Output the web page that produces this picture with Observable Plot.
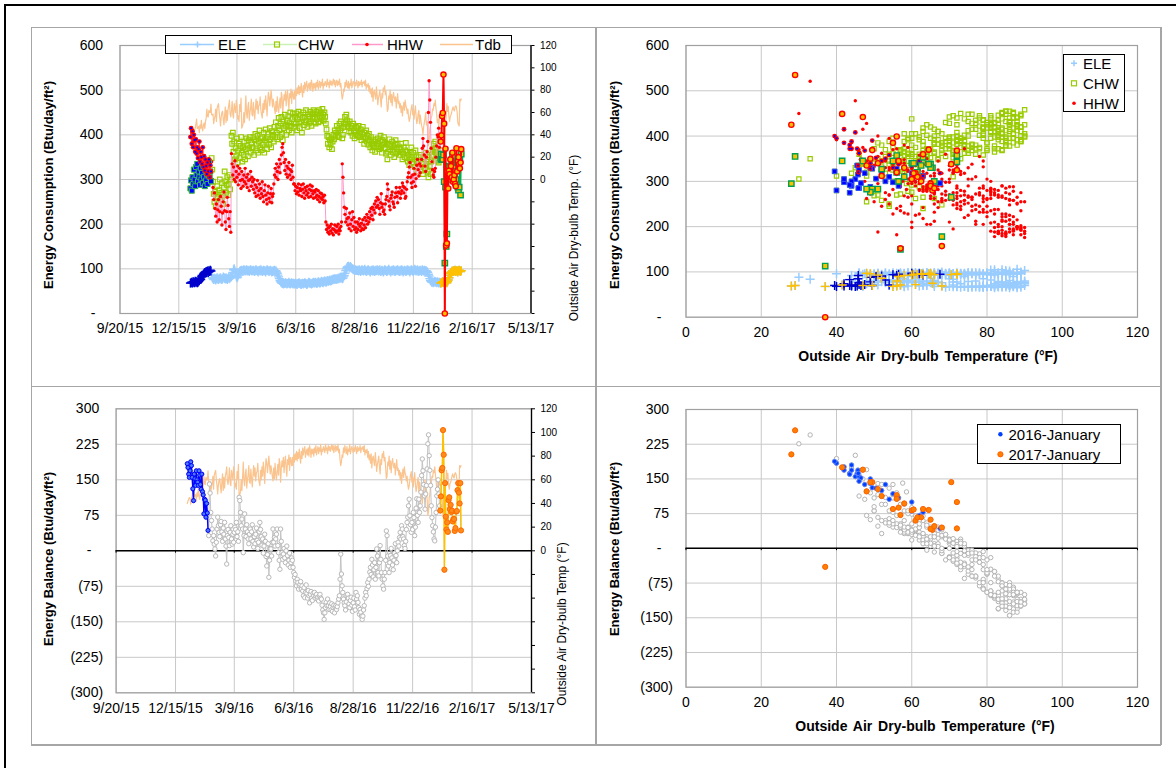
<!DOCTYPE html>
<html>
<head>
<meta charset="utf-8">
<title>Energy consumption and energy balance</title>
<script src="https://cdn.jsdelivr.net/npm/d3@7"></script>
<script src="https://cdn.jsdelivr.net/npm/@observablehq/plot@0.6"></script>
<style>
  html, body { margin: 0; padding: 0; background: #fff; }
  #page { position: relative; width: 1176px; height: 768px; overflow: hidden;
          font-family: "Liberation Sans", Arial, sans-serif; color: #000; }
  #outer { position: absolute; left: 4px; top: 4px; width: 1300px; height: 900px;
           border-top: 2px solid #000; border-left: 2px solid #000; }
  .rule { position: absolute; background: #a6a6a6; }
  .chart { position: absolute; }
  .ttl { position: absolute; white-space: nowrap; transform: translate(-50%, -50%) rotate(-90deg);
         font-size: 13px; font-weight: bold; }
  .ttl.r { font-weight: normal; font-size: 12px; }
  .xttl { position: absolute; white-space: nowrap; transform: translate(-50%, -50%);
          font-size: 14px; font-weight: bold; word-spacing: 2px; }
  .legend { position: absolute; background: #fff; border: 1px solid #000; box-sizing: border-box; }
  .legend svg { display: block; font-family: "Liberation Sans", Arial, sans-serif; font-size: 15px; }
</style>
</head>
<body>
<div id="page">
  <div id="outer"></div>
  <!-- panel borders -->
  <div class="rule" style="left:31px;top:26.5px;width:1130px;height:1.5px"></div>
  <div class="rule" style="left:31px;top:744px;width:1130px;height:1.5px"></div>
  <div class="rule" style="left:30.5px;top:27px;width:1.5px;height:718px"></div>
  <div class="rule" style="left:1160px;top:27px;width:1.5px;height:718px"></div>
  <div class="rule" style="left:595px;top:27px;width:1.5px;height:718px"></div>
  <div class="rule" style="left:31px;top:385.5px;width:1130px;height:1.5px"></div>

  <div class="chart" id="c1" style="left:0;top:0;width:596px;height:385px"></div>
  <div class="chart" id="c2" style="left:596px;top:0;width:580px;height:385px"></div>
  <div class="chart" id="c3" style="left:0;top:385px;width:596px;height:383px"></div>
  <div class="chart" id="c4" style="left:596px;top:385px;width:580px;height:383px"></div>

  <div class="ttl" style="left:48px;top:185px">Energy Consumption (Btu/day/ft²)</div>
  <div class="ttl r" style="left:574px;top:238px">Outside Air Dry-bulb Temp. (°F)</div>
  <div class="ttl" style="left:614px;top:185px">Energy Consumption (Btu/day/ft²)</div>
  <div class="xttl" style="left:928px;top:356px">Outside Air Dry-bulb Temperature (°F)</div>
  <div class="ttl" style="left:48px;top:559px">Energy Balance (Btu/day/ft²)</div>
  <div class="ttl r" style="left:562px;top:624px">Outside Air Dry-bulb Temp (°F)</div>
  <div class="ttl" style="left:614px;top:549px">Energy Balance (Btu/day/ft²)</div>
  <div class="xttl" style="left:925px;top:726px">Outside Air Dry-bulb Temperature (°F)</div>

  <!-- legend: time series -->
  <div class="legend" style="left:165px;top:35px;width:347px;height:19px">
    <svg width="345" height="17">
      <line x1="14" x2="48" y1="8.5" y2="8.5" stroke="#99ccff" stroke-width="1.5"/>
      <path d="M28.5,8.5h6M31.5,5.5v6" stroke="#99ccff" stroke-width="1.5"/>
      <text x="52" y="13.5">ELE</text>
      <line x1="97" x2="131" y1="8.5" y2="8.5" stroke="#ccf2b8" stroke-width="1.5"/>
      <rect x="108.5" y="6" width="5" height="5" fill="none" stroke="#99cc00" stroke-width="1.2"/>
      <text x="132" y="13.5">CHW</text>
      <line x1="186" x2="217" y1="8.5" y2="8.5" stroke="#ff99cc" stroke-width="1.5"/>
      <circle cx="201" cy="8.5" r="1.8" fill="#ff0000"/>
      <text x="221" y="13.5">HHW</text>
      <line x1="274" x2="307" y1="8.5" y2="8.5" stroke="#fbc48f" stroke-width="1.5"/>
      <text x="309" y="13.5">Tdb</text>
    </svg>
  </div>
  <!-- legend: consumption scatter -->
  <div class="legend" style="left:1063px;top:54px;width:62px;height:58px">
    <svg width="60" height="56">
      <path d="M7,8.3h6M10,5.3v6" stroke="#99ccff" stroke-width="1.5"/>
      <text x="19" y="13.5">ELE</text>
      <rect x="7.5" y="25.8" width="5" height="5" fill="none" stroke="#99cc00" stroke-width="1.2"/>
      <text x="19" y="33.5">CHW</text>
      <circle cx="10" cy="48.3" r="1.8" fill="#ff0000"/>
      <text x="19" y="53.5">HHW</text>
    </svg>
  </div>
  <!-- legend: balance scatter -->
  <div class="legend" style="left:977px;top:424px;width:144px;height:40px">
    <svg width="142" height="38">
      <circle cx="22.4" cy="9.3" r="2.2" fill="#0040ff"/>
      <text x="30.5" y="14.5">2016-January</text>
      <circle cx="22.4" cy="29.3" r="2.6" fill="#ff8000" stroke="#ff6000" stroke-width="1"/>
      <text x="30.5" y="34.5">2017-January</text>
    </svg>
  </div>
</div>

<script>
// ---- Daily values, one inner list per month (Jan 2016 ... Jan 2017) ----
const monthStarts = ["2016-01-01","2016-02-01","2016-03-01","2016-04-01","2016-05-01","2016-06-01",
  "2016-07-01","2016-08-01","2016-09-01","2016-10-01","2016-11-01","2016-12-01","2017-01-01"];

// Outside air dry-bulb temperature, °F
const tdb = [
  [40,42,43.5,45,44,39.5,44,46,49.5,54,45.5,46.5,47.5,42,49,46,53,45.7,43.5,49,50.5,45.8,52,55,63,56.5,56,62,60,60,67.5],
  [58,57.6,58.6,50,54,57,63,52,64,66,68,60,55,48,56,60,61,54,49,58,65,51,62,53,63,66,71,59,56],
  [62,70,58,55,68,64,60,71,66,54,57,52,67,61,73,46,47.5,50,60,51,62,75,59,55,65,69,53,60,64,72,58],
  [57,69,61,54,64,72,63,70,59,66,67,74,62,58,55,68,60,71,63,75,67,57,70,78,74,66,73,80,72,65],
  [72,68,63,59,70,61,74,65,60,67,73,64,78,74,58,69,76,71,79,66,75,80,70,63,77,73,81,68,79,76,72],
  [79,72,81,75,82,77,84,76,83,78,86,79,74,84,78,87,81,85,88,79,83,86,81,87,80,89,85,79,86,82],
  [86,80,87,83,89,81,85,88,82,87,84,90,81,86,84,88,86,83,90,85,87,82,89,85,88,84,87,90,85,89,83],
  [87,89,84,88,85,90,83,86,77,72,75,81,79,87,83,89,85,82,88,81,86,84,90,82,85,88,86,83,87,84,89],
  [86,82,88,84,87,85,89,83,87,86,88,84,89,81,85,83,86,79,84,77,81,74,82,70,78,80,75,72,83,76],
  [67,73,76,80,71,65,77,73,82,79,84,76,79,70,61,63,75,72,80,69,76,66,74,78,73,70,74,64,71,77,68],
  [70,64,68,60,66,57,64,69,62,71,66,64,59,63,56,52,55,60,64,67,58,62,54,61,66,57,50,53,59,62],
  [50,58,53,48,46,40,47,51,55,60,49,52,44,30,33,45,48,55,57,63,62,68,66,71,64,59,51,54,47,56,58],
  [55,56,47,41.5,29,28,37,49.5,57,68,61,65.5,56,52,56.5,58,60,63,65,62.5,61.5,65,66,64.5,60.5,51,49,48,72,70.5,72]
];

// Electricity, Btu/day/ft²
const ele = [
  [68,69,70,68,71,70,69,72,70,71,69,70,72,74,78,76,82,85,83,88,90,92,91,94,93,95,92,96,94,97,95],
  [85,80,78,76,79,77,75,78,80,77,76,79,78,80,77,76,78,82,80,79,77,80,78,76,79,81,78,80,82],
  [82,85,92,98,100,96,90,84,80,82,86,90,94,96,95,97,96,94,98,97,95,96,98,95,97,96,94,97,98,96,95],
  [96,97,95,94,97,98,96,95,93,96,97,95,98,96,94,95,97,96,95,93,96,98,97,95,94,96,97,95,93,94],
  [96,95,97,94,96,93,90,86,82,78,74,71,69,68,67,66,68,67,69,68,66,67,68,70,67,66,68,69,67,66,68],
  [66,67,68,66,65,67,68,69,67,66,65,67,68,66,67,69,68,67,65,66,68,70,69,67,68,66,67,69,70,68],
  [69,70,68,67,69,71,70,68,69,71,72,70,69,71,73,72,70,71,74,73,72,74,75,73,74,76,75,77,76,78,77],
  [76,78,77,79,78,80,79,81,80,78,79,82,85,90,96,100,103,105,106,104,102,105,103,101,100,98,99,97,98,96,97],
  [96,97,95,98,96,94,97,98,96,95,97,99,96,94,95,97,98,96,95,93,96,97,95,98,96,94,97,95,96,98],
  [97,95,96,98,94,95,97,96,93,95,98,97,96,94,95,97,99,96,95,93,96,97,95,98,96,94,95,97,96,98,95],
  [96,94,97,95,98,96,93,95,97,96,94,95,98,96,97,95,93,96,98,97,95,94,96,99,97,95,96,98,94,96],
  [95,97,96,94,98,96,95,97,93,96,95,94,92,88,84,78,74,72,70,71,69,70,72,71,70,69,71,70,68,70,69],
  [68,69,70,71,70,69,68,70,71,69,72,75,80,86,90,92,93,95,94,96,95,97,94,96,95,93,96,97,95,94,96]
];

// Chilled water, Btu/day/ft²
const chw = [
  [280,298,275,305,290,322,300,285,328,310,335,296,318,305,288,325,300,315,292,330,306,285,320,298,312,290,328,340,305,318,296],
  [348,322,295,268,250,272,240,258,285,262,248,276,300,255,270,292,262,245,282,318,296,270,288,305,265,290,310,278,300],
  [398,380,405,362,385,345,370,352,392,338,365,380,348,375,395,360,340,372,355,385,345,368,392,376,352,388,370,395,360,382,372],
  [370,395,355,388,402,365,380,398,360,385,410,372,392,366,395,378,405,360,388,412,382,368,395,402,378,415,390,372,408,395],
  [400,385,418,395,428,405,390,420,438,410,395,425,440,402,388,430,415,445,420,400,432,418,442,410,428,450,420,405,435,448,425],
  [418,440,425,448,410,435,452,428,415,445,430,405,438,450,422,440,428,455,432,418,446,425,440,452,430,420,448,436,455,428],
  [440,425,452,435,448,428,455,442,430,450,438,458,445,432,450,440,425,412,398,380,395,372,388,378,392,368,385,400,390,410,398],
  [405,420,398,412,395,425,410,430,415,392,400,425,418,440,428,445,432,418,425,408,430,415,405,420,398,425,410,392,405,418,400],
  [415,398,420,405,395,412,388,402,418,395,380,405,392,410,385,398,378,402,388,372,395,380,365,390,375,385,362,388,372,380],
  [392,375,368,385,398,372,360,388,378,395,370,382,358,380,345,362,378,390,368,355,375,385,362,372,350,378,388,358,368,380,362],
  [372,355,368,380,362,345,358,372,350,365,382,348,362,340,355,332,345,360,372,350,338,360,345,328,365,352,340,318,335,350],
  [342,328,355,320,335,312,338,350,325,360,332,345,318,305,350,330,312,340,355,368,352,380,362,385,370,355,342,360,338,352,365],
  [345,357,345,345,355,295,113,283,150,178,318,330,320,327,300,310,340,353,338,335,320,330,300,338,340,283,276,283,343,265,357]
];

// Heating hot water, Btu/day/ft²
const hhw = [
  [395,415,380,408,372,400,388,362,390,358,372,348,368,385,340,362,350,335,372,328,352,320,345,330,312,338,318,345,305,332,318],
  [340,300,282,255,270,235,218,245,205,232,255,210,228,262,240,198,225,250,272,230,205,188,228,260,242,212,195,228,182],
  [358,335,310,328,300,342,295,318,305,330,288,312,325,298,280,318,300,285,310,295,325,290,305,282,312,298,275,300,318,285,305],
  [295,278,300,270,288,262,282,298,265,275,290,258,280,268,295,262,250,275,288,265,255,245,270,285,258,250,268,280,248,262],
  [268,290,310,325,305,335,318,300,328,345,315,335,355,372,380,360,338,320,345,312,330,305,325,338,310,322,300,318,332,305,290],
  [290,275,285,268,282,272,290,265,280,275,288,262,278,290,270,258,282,275,265,285,270,260,278,288,262,275,285,268,258,275],
  [272,260,278,265,255,275,262,250,270,258,268,255,262,248,265,252,205,188,198,182,192,178,195,185,200,180,190,176,188,198,185],
  [182,195,185,200,178,190,185,195,205,335,305,270,238,222,205,235,212,198,215,190,225,200,185,210,228,195,215,188,205,192,182],
  [205,188,200,212,195,185,202,190,210,188,198,215,192,208,222,200,215,205,228,212,235,220,238,210,232,245,225,252,238,260],
  [242,255,235,222,248,268,238,245,228,232,222,245,255,262,290,278,252,240,232,258,265,272,250,245,238,260,270,282,262,248,272],
  [270,282,258,268,275,292,285,270,282,258,262,278,295,305,315,328,338,305,292,282,310,295,325,312,285,302,332,345,322,308],
  [335,315,330,345,370,392,375,355,330,318,350,362,385,450,521,478,428,370,340,322,310,305,318,325,350,375,400,395,415,372,348],
  [385,399,442,449,535,425,0,369,152,157,318,280,320,312,345,330,305,360,295,300,310,290,285,370,318,340,350,335,325,338,368]
];

// Energy balance, Btu/day/ft²
const balance = [
  [184,176,162,155,169,188,180,155,131,106,162,152,138,169,150,145,138,169,160,140,130,162,125,118,78,109,107,71,100,80,43],
  [32,141,122,81,64,46,21,32,14,4,-11,18,46,71,53,39,30,55,62,40,20,48,35,60,25,10,-28,32,45],
  [28,11,39,53,25,14,35,18,39,50,45,60,30,40,20,113,106,81,53,67,46,-4,32,78,46,30,55,40,25,15,35],
  [46,25,40,55,20,8,30,15,35,48,22,5,18,40,60,45,30,12,25,-5,10,35,20,-12,-32,-8,15,-56,-20,5],
  [4,-11,18,46,18,28,10,25,35,46,11,-4,-20,-39,46,20,-4,-18,-7,5,-15,-25,0,10,-10,-30,-20,-5,-35,-25,-15],
  [-20,-35,-46,-56,-50,-64,-74,-60,-67,-81,-74,-71,-65,-81,-74,-85,-95,-78,-99,-88,-72,-90,-100,-84,-95,-110,-92,-86,-100,-105],
  [-90,-95,-88,-100,-95,-92,-102,-98,-106,-95,-92,-100,-102,-115,-125,-131,-145,-131,-120,-109,-116,-102,-116,-124,-110,-118,-125,-112,-128,-120,-115],
  [-131,-120,-116,-124,-118,-110,-102,-95,-60,-7,-49,-74,-88,-102,-110,-116,-125,-108,-95,-92,-100,-112,-120,-105,-98,-115,-128,-110,-100,-118,-125],
  [-88,-102,-95,-109,-120,-134,-124,-130,-138,-145,-138,-125,-116,-100,-88,-95,-80,-67,-75,-60,-45,-35,-50,-18,-30,-55,-40,-25,-60,-35],
  [4,-11,-46,-53,-25,11,-18,-46,-60,-74,-81,-60,-46,-20,42,32,-11,-32,-46,-25,-10,5,-15,-30,-40,-20,-5,15,-10,-25,0],
  [18,10,28,39,25,53,46,30,25,11,5,20,45,60,71,95,109,74,55,39,60,45,81,70,32,50,90,110,75,60],
  [109,81,95,124,159,194,169,140,116,88,120,138,173,226,245,201,170,138,95,70,53,40,25,21,50,81,116,130,150,120,95],
  [85,115,170,175,255,203,-40,143,72,45,60,40,107,113,88,97,82,85,62,67,67,42,48,83,84,128,143,123,100,143,43]
];

// ---- Axis ticks ----
const dateTicks = ["2015-09-20","2015-12-15","2016-03-09","2016-06-03","2016-08-28","2016-11-22","2017-02-16","2017-05-13"];
const consumptionTicks = [0, 100, 200, 300, 400, 500, 600];
const balanceTicks = [-300, -225, -150, -75, 0, 75, 150, 225, 300];
const tempTicks = [0, 20, 40, 60, 80, 100, 120];
const rightTempTicks = [-120, -100, -80, -60, -40, -20, 0, 20, 40, 60, 80, 100, 120];

// ---- Table of daily records ----
const rows = [];
monthStarts.forEach((start, m) => {
  const first = new Date(start);
  tdb[m].forEach((t, d) => {
    rows.push({
      date: new Date(first.getTime() + d * 864e5),
      tdb: t, ele: ele[m][d], chw: chw[m][d], hhw: hhw[m][d], bal: balance[m][d],
      period: m === 0 ? "2016-January" : m === monthStarts.length - 1 ? "2017-January" : ""
    });
  });
});
const jan16 = rows.filter(r => r.period === "2016-January");
const jan17 = rows.filter(r => r.period === "2017-January");

const dateTickDates = dateTicks.map(s => new Date(s));
const dateDomain = [dateTickDates[0], dateTickDates[dateTickDates.length - 1]];

// the temperature axis on the right shares the left scale: -120..120 °F spans the full height
const tempOnConsumption = t => (t + 120) * 2.5;
const tempOnBalance = t => t * 2.5;

const acct = v => v === 0 ? "-\u00a0\u00a0\u00a0" : v < 0 ? `(${-v})` : `${v}\u00a0`;
const fmtDate = d3.utcFormat("%-m/%-d/%y");
const GRID = "#c8c8c8", FRAME = "#a0a0a0", TDB = "#fbc48f";
const style = { fontFamily: "'Liberation Sans', Arial, sans-serif", fontSize: "14px",
                color: "#000", background: "transparent", overflow: "visible" };

const grid = (xs, ys) => [
  Plot.gridX(xs, { stroke: GRID, strokeOpacity: 1, strokeWidth: 1 }),
  Plot.gridY(ys, { stroke: GRID, strokeOpacity: 1, strokeWidth: 1 }),
  Plot.frame({ stroke: FRAME, strokeWidth: 1.2 })
];

// ---- Top left: daily consumption and temperature ----
const c1 = Plot.plot({
  width: 596, height: 385, marginLeft: 119.5, marginRight: 65.5, marginTop: 45, marginBottom: 72,
  x: { type: "utc", domain: dateDomain, axis: null, label: null },
  y: { domain: [0, 600], axis: null, label: null },
  style,
  marks: [
    ...grid(dateTickDates, consumptionTicks),
    Plot.lineY(rows, { x: "date", y: d => tempOnConsumption(d.tdb), stroke: TDB, strokeWidth: 1.2 }),
    Plot.lineY(rows, { x: "date", y: "ele", stroke: "#99ccff", strokeWidth: 1.2 }),
    Plot.dot(rows, { x: "date", y: "ele", symbol: "plus", r: 3, stroke: "#99ccff", strokeWidth: 1.4 }),
    Plot.lineY(rows, { x: "date", y: "chw", stroke: "#ccf2b8", strokeWidth: 1 }),
    Plot.dot(rows, { x: "date", y: "chw", symbol: "square", r: 2.6, fill: "none", stroke: "#99cc00", strokeWidth: 1.2 }),
    Plot.lineY(rows, { x: "date", y: "hhw", stroke: "#ff99cc", strokeWidth: 1 }),
    Plot.dot(rows, { x: "date", y: "hhw", r: 1.7, fill: "#ff0000" }),
    // January 2016
    Plot.lineY(jan16, { x: "date", y: "ele", stroke: "#0000cc", strokeWidth: 1.2 }),
    Plot.dot(jan16, { x: "date", y: "ele", symbol: "plus", r: 3, stroke: "#0000cc", strokeWidth: 1.4 }),
    Plot.dot(jan16, { x: "date", y: "chw", symbol: "square", r: 2.8, fill: "#0000ff", stroke: "#33bb55", strokeWidth: 1 }),
    Plot.lineY(jan16, { x: "date", y: "hhw", stroke: "#ff3333", strokeWidth: 1 }),
    Plot.dot(jan16, { x: "date", y: "hhw", r: 2.4, fill: "#ff0000" }),
    Plot.dot(jan16, { x: "date", y: "hhw", r: 1.1, fill: "#0000ff" }),
    // January 2017
    Plot.lineY(jan17, { x: "date", y: "ele", stroke: "#ffc000", strokeWidth: 1.2 }),
    Plot.dot(jan17, { x: "date", y: "ele", symbol: "plus", r: 3, stroke: "#ffc000", strokeWidth: 1.4 }),
    Plot.lineY(jan17, { x: "date", y: "chw", stroke: "#00b050", strokeWidth: 1.2 }),
    Plot.dot(jan17, { x: "date", y: "chw", symbol: "square", r: 3, fill: "#ffc000", stroke: "#00a050", strokeWidth: 1.4 }),
    Plot.lineY(jan17, { x: "date", y: "hhw", stroke: "#ff0000", strokeWidth: 2 }),
    Plot.dot(jan17, { x: "date", y: "hhw", r: 2.6, fill: "#ffc000", stroke: "#ff0000", strokeWidth: 1.4 }),
    // axes
    Plot.axisY(consumptionTicks, { anchor: "left", tickSize: 0, tickPadding: 13, tickFormat: acct, fontSize: 14, label: null }),
    Plot.axisX(dateTickDates, { anchor: "bottom", tickSize: 0, tickPadding: 10, tickFormat: fmtDate, fontSize: 14, label: null }),
    Plot.axisY(rightTempTicks.map(tempOnConsumption), { anchor: "right", tickSize: 3, tickPadding: 6, fontSize: 10, label: null,
      tickFormat: v => { const t = Math.round(v / 2.5 - 120); return t >= 0 ? String(t) : ""; } }),
    Plot.ruleX([dateDomain[1]], { stroke: "#000", strokeWidth: 1.3 })
  ]
});
document.getElementById("c1").append(c1);

// ---- Top right: consumption against temperature ----
const c2 = Plot.plot({
  width: 580, height: 385, marginLeft: 89.5, marginRight: 39, marginTop: 45, marginBottom: 68.3,
  x: { domain: [0, 120], axis: null, label: null },
  y: { domain: [0, 600], axis: null, label: null },
  style,
  marks: [
    ...grid(tempTicks, consumptionTicks),
    Plot.dot(rows, { x: "tdb", y: "ele", symbol: "plus", r: 3, stroke: "#99ccff", strokeWidth: 1.5 }),
    Plot.dot(rows, { x: "tdb", y: "chw", symbol: "square", r: 2.4, fill: "none", stroke: "#99cc00", strokeWidth: 1.2 }),
    Plot.dot(rows, { x: "tdb", y: "hhw", r: 1.7, fill: "#ff0000" }),
    Plot.dot(jan16, { x: "tdb", y: "ele", symbol: "plus", r: 3, stroke: "#0000cc", strokeWidth: 1.4 }),
    Plot.dot(jan16, { x: "tdb", y: "chw", symbol: "square", r: 2.6, fill: "#0000ff", stroke: "#3355ff", strokeWidth: 1 }),
    Plot.dot(jan16, { x: "tdb", y: "hhw", r: 2.4, fill: "#ff0000" }),
    Plot.dot(jan16, { x: "tdb", y: "hhw", r: 1.1, fill: "#0000ff" }),
    Plot.dot(jan17, { x: "tdb", y: "ele", symbol: "plus", r: 3, stroke: "#ffc000", strokeWidth: 1.4 }),
    Plot.dot(jan17, { x: "tdb", y: "chw", symbol: "square", r: 3, fill: "#ffc000", stroke: "#00a050", strokeWidth: 1.4 }),
    Plot.dot(jan17, { x: "tdb", y: "hhw", r: 2.6, fill: "#ffc000", stroke: "#ff0000", strokeWidth: 1.4 }),
    Plot.axisY(consumptionTicks, { anchor: "left", tickSize: 0, tickPadding: 13, tickFormat: acct, fontSize: 14, label: null }),
    Plot.axisX(tempTicks, { anchor: "bottom", tickSize: 0, tickPadding: 10, fontSize: 14, label: null, tickFormat: d => String(d) })
  ]
});
document.getElementById("c2").append(c2);

// ---- Bottom left: daily energy balance and temperature ----
const c3 = Plot.plot({
  width: 596, height: 383, marginLeft: 115.6, marginRight: 65, marginTop: 23.3, marginBottom: 75.7,
  x: { type: "utc", domain: dateDomain, axis: null, label: null },
  y: { domain: [-300, 300], axis: null, label: null },
  style,
  marks: [
    ...grid(dateTickDates, balanceTicks),
    Plot.lineY(rows, { x: "date", y: d => tempOnBalance(d.tdb), stroke: TDB, strokeWidth: 1.2 }),
    Plot.ruleY([0], { stroke: "#000", strokeWidth: 1.5 }),
    Plot.ruleX(dateTickDates, { y1: 0, y2: -5, stroke: "#000", strokeWidth: 1 }),
    Plot.lineY(rows, { x: "date", y: "bal", stroke: "#c4c4c4", strokeWidth: 1 }),
    Plot.dot(rows, { x: "date", y: "bal", r: 2.2, fill: "#fff", stroke: "#b8b8b8", strokeWidth: 1 }),
    Plot.lineY(jan16, { x: "date", y: "bal", stroke: "#0000ff", strokeWidth: 1.4 }),
    Plot.dot(jan16, { x: "date", y: "bal", r: 2, fill: "#4d79ff", stroke: "#0000ff", strokeWidth: 1 }),
    Plot.lineY(jan17, { x: "date", y: "bal", stroke: "#ffc000", strokeWidth: 1.5 }),
    Plot.dot(jan17, { x: "date", y: "bal", r: 2.6, fill: "#ff8c1a", stroke: "#ff6a00", strokeWidth: 1 }),
    Plot.axisY(balanceTicks, { anchor: "left", tickSize: 0, tickPadding: 13, tickFormat: acct, fontSize: 14, label: null }),
    Plot.axisX(dateTickDates, { anchor: "bottom", tickSize: 0, tickPadding: 10, tickFormat: fmtDate, fontSize: 14, label: null }),
    Plot.axisY(rightTempTicks.map(tempOnBalance), { anchor: "right", tickSize: 3, tickPadding: 6, fontSize: 10, label: null,
      tickFormat: v => { const t = Math.round(v / 2.5); return t >= 0 ? String(t) : ""; } }),
    Plot.ruleX([dateDomain[1]], { stroke: "#000", strokeWidth: 1.3 })
  ]
});
document.getElementById("c3").append(c3);

// ---- Bottom right: energy balance against temperature ----
const c4 = Plot.plot({
  width: 580, height: 383, marginLeft: 89.5, marginRight: 39, marginTop: 24, marginBottom: 81.3,
  x: { domain: [0, 120], axis: null, label: null },
  y: { domain: [-300, 300], axis: null, label: null },
  style,
  marks: [
    ...grid(tempTicks, balanceTicks),
    Plot.ruleY([0], { stroke: "#000", strokeWidth: 1.5 }),
    Plot.ruleX(tempTicks, { y1: 0, y2: -5, stroke: "#000", strokeWidth: 1 }),
    Plot.dot(rows, { x: "tdb", y: "bal", r: 2.2, fill: "#fff", stroke: "#b4b4b4", strokeWidth: 1 }),
    Plot.dot(jan16, { x: "tdb", y: "bal", r: 2.2, fill: "#0040ff", stroke: "#6688ff", strokeWidth: 0.8 }),
    Plot.dot(jan17, { x: "tdb", y: "bal", r: 2.6, fill: "#ff8000", stroke: "#ff6000", strokeWidth: 1 }),
    Plot.axisY(balanceTicks, { anchor: "left", tickSize: 0, tickPadding: 13, tickFormat: acct, fontSize: 14, label: null }),
    Plot.axisX(tempTicks, { anchor: "bottom", tickSize: 0, tickPadding: 10, fontSize: 14, label: null, tickFormat: d => String(d) })
  ]
});
document.getElementById("c4").append(c4);
</script>
</body>
</html>
